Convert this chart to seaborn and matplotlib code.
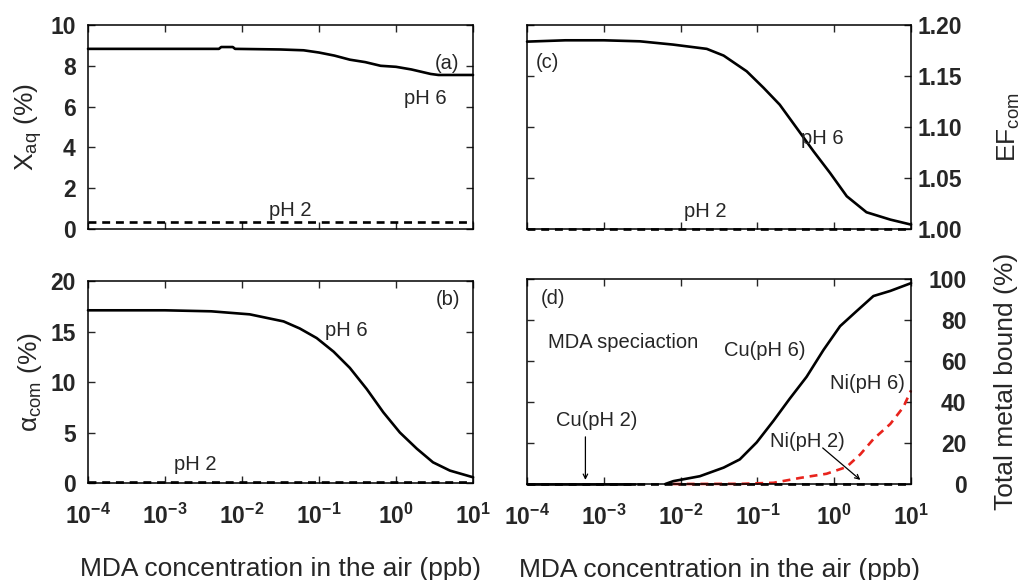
import numpy as np
import pandas as pd
import matplotlib
matplotlib.use("Agg")
import matplotlib.pyplot as plt
import seaborn as sns

# ---------------- data (log10 of MDA concentration, ppb) ----------------
xticks_log = [-4, -3, -2, -1, 0, 1]

# (a) X_aq (%)
a_ph6_logx = [-4, -2.3, -2.27, -2.12, -2.09, -1.5, -1.2, -1.0, -0.8, -0.6, -0.4, -0.2, 0.0, 0.2, 0.45, 0.55, 1.0]
a_ph6_val = [8.83, 8.83, 8.92, 8.92, 8.83, 8.8, 8.76, 8.65, 8.5, 8.3, 8.18, 8.0, 7.95, 7.82, 7.6, 7.55, 7.55]
a_ph2_logx = [-4, 1]
a_ph2_val = [0.35, 0.35]

# (b) alpha_com (%)
b_ph6_logx = [-4, -3, -2.4, -1.9, -1.46, -1.25, -1.03, -0.81, -0.60, -0.38, -0.165, 0.05, 0.27, 0.48, 0.70, 1.0]
b_ph6_val = [17.1, 17.1, 17.0, 16.7, 16.0, 15.3, 14.35, 13.0, 11.4, 9.3, 7.0, 5.0, 3.4, 2.05, 1.23, 0.57]
b_ph2_logx = [-4, 1]
b_ph2_val = [0.1, 0.1]

# (c) EF_com
c_ph6_logx = [-4, -3.5, -3.0, -2.53, -2.1, -1.66, -1.44, -1.14, -0.92, -0.71, -0.49, -0.27, -0.055, 0.163, 0.42, 0.73, 1.0]
c_ph6_val = [1.1837, 1.185, 1.185, 1.1840, 1.1808, 1.1766, 1.1700, 1.1546, 1.1384, 1.1219, 1.0991, 1.0762, 1.0550, 1.0321, 1.0164, 1.0092, 1.0043]
c_ph2_logx = [-4, 1]
c_ph2_val = [1.0, 1.0]

# (d) total metal bound (%)
d_cu6_logx = [-2.2, -2.095, -1.75, -1.44, -1.23, -1.01, -0.79, -0.58, -0.36, -0.14, 0.076, 0.29, 0.51, 0.73, 1.0]
d_cu6_val = [0, 1.4, 3.8, 8.0, 12.0, 20.3, 30.9, 41.6, 52.3, 65.4, 77.0, 84.3, 91.7, 94.2, 98.0]
d_ni6_logx = [-2.1, -1.2, -0.79, -0.44, -0.1, 0.16, 0.34, 0.51, 0.73, 0.90, 1.0]
d_ni6_val = [0, 0.1, 0.6, 3.0, 5.0, 8.3, 14.5, 21.9, 29.3, 37.5, 45.7]
d_cu2_logx = [-4, -2.6]
d_cu2_val = [0, 0]
d_ni2_logx = [-4, 1]
d_ni2_val = [0, 0]

xlabel_text = "MDA concentration in the air (ppb)"

# ---------------- style ----------------
sns.set_style("ticks")
plt.rcParams["font.family"] = ["Liberation Sans", "DejaVu Sans"]
plt.rcParams["mathtext.fontset"] = "custom"
plt.rcParams["mathtext.rm"] = "Liberation Sans"
plt.rcParams["mathtext.it"] = "Liberation Sans:italic"
plt.rcParams["mathtext.bf"] = "Liberation Sans:bold"
plt.rcParams["lines.dashed_pattern"] = (3.0, 2.2)

TICK_FS = 16.5
LAB_FS = 19
ANN_FS = 14.5

fig = plt.figure(figsize=(10.21, 5.8), dpi=100)
axA = fig.add_axes([0.0862, 0.6052, 0.3771, 0.3517])
axC = fig.add_axes([0.5162, 0.6052, 0.3761, 0.3517])
axB = fig.add_axes([0.0862, 0.1672, 0.3771, 0.3483])
axD = fig.add_axes([0.5162, 0.1655, 0.3761, 0.3534])

LW = 1.9


def line(ax, logx, vals, color="black", ls="-"):
    df = pd.DataFrame({"x": 10.0 ** np.asarray(logx, dtype=float), "y": vals})
    sns.lineplot(data=df, x="x", y="y", ax=ax, color=color, linestyle=ls,
                 linewidth=LW, estimator=None, sort=False, clip_on=False)


line(axA, a_ph6_logx, a_ph6_val)
line(axA, a_ph2_logx, a_ph2_val, ls="--")
line(axB, b_ph6_logx, b_ph6_val)
line(axB, b_ph2_logx, b_ph2_val, ls="--")
line(axC, c_ph6_logx, c_ph6_val)
line(axC, c_ph2_logx, c_ph2_val, ls="--")
line(axD, d_ni2_logx, d_ni2_val, ls="--")
line(axD, d_cu2_logx, d_cu2_val)
line(axD, d_ni6_logx, d_ni6_val, color="#e8231c", ls="--")
line(axD, d_cu6_logx, d_cu6_val)

xtick_vals = [10.0 ** v for v in xticks_log]
xtick_labels = [r"$\mathbf{10^{%d}}$" % v for v in xticks_log]

for ax in (axA, axB, axC, axD):
    ax.set_xscale("log")
    ax.set_xlim(1e-4, 10)
    ax.set_xticks(xtick_vals)
    ax.minorticks_off()
    ax.tick_params(which="both", direction="in", top=True, right=True,
                   length=5, width=1, labelsize=TICK_FS)
    for s in ax.spines.values():
        s.set_linewidth(1.1)
        s.set_color("black")
    ax.set_xlabel("")
    ax.set_ylabel("")

for ax in (axA, axC):
    ax.set_xticklabels([])
for ax in (axB, axD):
    ax.set_xticklabels(xtick_labels)
    ax.tick_params(axis="x", pad=15)
    ax.set_xlabel(xlabel_text, fontsize=LAB_FS, labelpad=20)

# (a)
axA.set_ylim(0, 10)
axA.set_yticks([0, 2, 4, 6, 8, 10])
axA.tick_params(axis="y", pad=9)
axA.set_ylabel(r"X$_{\rm aq}$ (%)", fontsize=LAB_FS, labelpad=4)
# (b)
axB.set_ylim(0, 20)
axB.set_yticks([0, 5, 10, 15, 20])
axB.tick_params(axis="y", pad=9)
axB.set_ylabel(r"$\mathrm{\alpha_{com}}$ (%)", fontsize=LAB_FS, labelpad=4)
# (c)
axC.set_ylim(1.0, 1.2)
axC.set_yticks([1.0, 1.05, 1.10, 1.15, 1.20])
axC.set_yticklabels(["1.00", "1.05", "1.10", "1.15", "1.20"])
axC.tick_params(axis="y", labelleft=False, labelright=True, pad=5)
axC.yaxis.set_label_position("right")
axC.set_ylabel(r"EF$_{\rm com}$", fontsize=LAB_FS, rotation=90, labelpad=24)
# (d)
axD.set_ylim(0, 100)
axD.set_yticks([0, 20, 40, 60, 80, 100])
axD.tick_params(axis="y", labelleft=False, labelright=True, pad=40)
for t in axD.get_yticklabels():
    t.set_horizontalalignment("right")
axD.yaxis.set_label_position("right")
axD.set_ylabel("Total metal bound (%)", fontsize=LAB_FS, rotation=90, labelpad=20)

for ax in (axA, axB, axC, axD):
    for t in ax.get_yticklabels():
        t.set_fontweight("bold")

# annotations
def txt(ax, lx, y, s):
    ax.text(10.0 ** lx, y, s, fontsize=ANN_FS, ha="center", va="center")

txt(axA, 0.66, 8.1, "(a)")
txt(axA, 0.38, 6.4, "pH 6")
txt(axA, -1.38, 0.93, "pH 2")

txt(axB, 0.68, 18.2, "(b)")
txt(axB, -0.64, 15.1, "pH 6")
txt(axB, -2.61, 1.8, "pH 2")

txt(axC, -3.73, 1.163, "(c)")
txt(axC, -0.15, 1.089, "pH 6")
txt(axC, -1.68, 1.017, "pH 2")

txt(axD, -3.66, 90.7, "(d)")
txt(axD, -2.75, 68.8, "MDA speciaction")
txt(axD, -0.9, 65, "Cu(pH 6)")
txt(axD, 0.43, 49, "Ni(pH 6)")
txt(axD, -3.09, 31, "Cu(pH 2)")
txt(axD, -0.35, 20.5, "Ni(pH 2)")

arrow = dict(arrowstyle="->", color="black", lw=0.9, shrinkA=0, shrinkB=0,
             mutation_scale=8)
axD.annotate("", xy=(10 ** -3.24, 2), xytext=(10 ** -3.24, 23), arrowprops=arrow)
axD.annotate("", xy=(10 ** 0.34, 2), xytext=(10 ** -0.15, 17.6), arrowprops=arrow)

fig.savefig("out.png", dpi=100)
